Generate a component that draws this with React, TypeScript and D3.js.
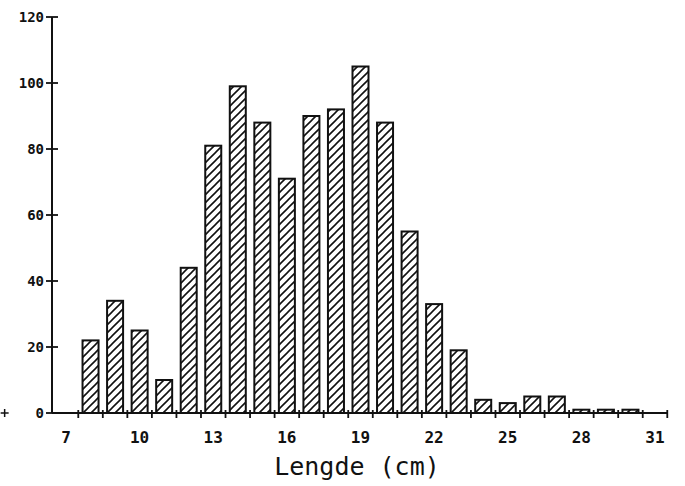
import React from "react";
import * as d3 from "d3";

// lengths (cm) and counts
const lengths = [7, 8, 9, 10, 11, 12, 13, 14, 15, 16, 17, 18, 19, 20, 21, 22, 23, 24, 25, 26, 27, 28, 29, 30, 31];
const counts = [0, 22, 34, 25, 10, 44, 81, 99, 88, 71, 90, 92, 105, 88, 55, 33, 19, 4, 3, 5, 5, 1, 1, 1, 0];
const xTickLabels = [7, 10, 13, 16, 19, 22, 25, 28, 31];
const yTicks = [0, 20, 40, 60, 80, 100, 120];
const xMinorTicks = d3.range(7.5, 32, 1);

const W = 685;
const H = 486;

export default function App() {
  const x = d3.scaleLinear().domain([7, 31]).range([66, 655]);
  const y = d3.scaleLinear().domain([0, 120]).range([413, 17]);
  const axisX = 52;
  const barW = 16;
  const ink = "#111";

  return (
    <svg width={W} height={H} style={{ display: "block", position: "absolute", left: 0, top: 0, background: "#fff" }}>
      <defs>
        <pattern id="hatch" patternUnits="userSpaceOnUse" width="8" height="8">
          <path d="M-2,2 L2,-2 M0,8 L8,0 M6,10 L10,6" stroke={ink} strokeWidth="1.6" />
        </pattern>
      </defs>

      {/* bars */}
      {lengths.map((l, i) =>
        counts[i] > 0 ? (
          <rect
            key={l}
            x={x(l) - barW / 2}
            y={y(counts[i])}
            width={barW}
            height={y(0) - y(counts[i])}
            fill="url(#hatch)"
            stroke={ink}
            strokeWidth={2}
          />
        ) : null
      )}

      {/* y axis */}
      <line x1={axisX} x2={axisX} y1={y(120)} y2={y(0)} stroke={ink} strokeWidth={2} />
      {yTicks.map((t) => (
        <g key={t}>
          <line x1={axisX - 6} x2={axisX + 6} y1={y(t)} y2={y(t)} stroke={ink} strokeWidth={1.8} />
          <text
            x={axisX - 8}
            y={y(t)}
            dy="0.35em"
            textAnchor="end"
            fontFamily="DejaVu Sans Mono"
            fontWeight="bold"
            fontSize={14}
            fill={ink}
          >
            {t}
          </text>
        </g>
      ))}

      {/* x axis */}
      <line x1={axisX} x2={x(31.5)} y1={y(0)} y2={y(0)} stroke={ink} strokeWidth={2} />
      {xMinorTicks.map((t) => (
        <line key={t} x1={x(t)} x2={x(t)} y1={y(0) - 3} y2={y(0) + 5} stroke={ink} strokeWidth={1.8} />
      ))}
      {/* stray plotter cross at the far left */}
      <line x1={x(4.5) - 4} x2={x(4.5) + 4} y1={y(0)} y2={y(0)} stroke={ink} strokeWidth={1.5} />
      <line x1={x(4.5)} x2={x(4.5)} y1={y(0) - 4} y2={y(0) + 4} stroke={ink} strokeWidth={1.5} />

      {xTickLabels.map((t) => (
        <text
          key={t}
          x={x(t)}
          y={437}
          dy="0.35em"
          textAnchor="middle"
          fontFamily="DejaVu Sans Mono"
          fontWeight="bold"
          fontSize={16}
          fill={ink}
        >
          {t}
        </text>
      ))}

      <text x={357} y={466} dy="0.35em" textAnchor="middle" fontFamily="DejaVu Sans Mono" fontSize={25} fill={ink}>
        Lengde (cm)
      </text>
    </svg>
  );
}
